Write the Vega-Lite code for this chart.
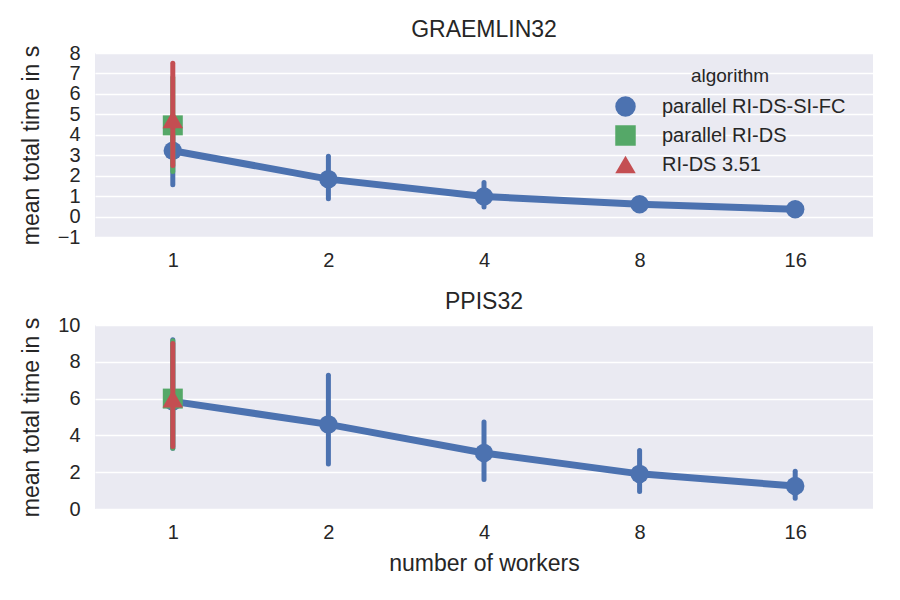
{
  "$schema": "https://vega.github.io/schema/vega-lite/v6.json",
  "background": "white",
  "padding": {"left": 20, "top": 19, "right": 5, "bottom": 5},
  "spacing": 21,
  "config": {
    "font": "Liberation Sans",
    "view": {"fill": "#EAEAF2", "stroke": null},
    "axis": {
      "grid": true, "gridColor": "white", "gridWidth": 1.6,
      "domain": false, "ticks": false, "labelOverlap": false,
      "labelFont": "Liberation Sans", "labelFontSize": 20, "labelColor": "#262626",
      "titleFont": "Liberation Sans", "titleFontSize": 23, "titleColor": "#262626", "titleFontWeight": "normal"
    },
    "axisX": {"grid": false, "labelPadding": 13, "labelAngle": 0},
    "axisY": {"labelPadding": 15, "titlePadding": 14},
    "title": {"font": "Liberation Sans", "fontSize": 23, "fontWeight": "normal", "color": "#262626", "offset": 1},
    "legend": {"labelFont": "Liberation Sans", "titleFont": "Liberation Sans"}
  },
  "datasets": {
    "pts": [
      {"panel": "GRAEMLIN32", "workers": "1", "algorithm": "parallel RI-DS-SI-FC", "mean": 3.22, "lo": 1.55, "hi": 4.6},
      {"panel": "GRAEMLIN32", "workers": "2", "algorithm": "parallel RI-DS-SI-FC", "mean": 1.83, "lo": 0.87, "hi": 2.95},
      {"panel": "GRAEMLIN32", "workers": "4", "algorithm": "parallel RI-DS-SI-FC", "mean": 0.98, "lo": 0.47, "hi": 1.67},
      {"panel": "GRAEMLIN32", "workers": "8", "algorithm": "parallel RI-DS-SI-FC", "mean": 0.6, "lo": 0.42, "hi": 0.82},
      {"panel": "GRAEMLIN32", "workers": "16", "algorithm": "parallel RI-DS-SI-FC", "mean": 0.36, "lo": 0.27, "hi": 0.46},
      {"panel": "GRAEMLIN32", "workers": "1", "algorithm": "parallel RI-DS", "mean": 4.46, "lo": 2.2, "hi": 6.8},
      {"panel": "GRAEMLIN32", "workers": "1", "algorithm": "RI-DS 3.51", "mean": 4.75, "lo": 2.5, "hi": 7.5},
      {"panel": "PPIS32", "workers": "1", "algorithm": "parallel RI-DS-SI-FC", "mean": 5.85, "lo": 3.3, "hi": 9.2},
      {"panel": "PPIS32", "workers": "2", "algorithm": "parallel RI-DS-SI-FC", "mean": 4.6, "lo": 2.45, "hi": 7.27},
      {"panel": "PPIS32", "workers": "4", "algorithm": "parallel RI-DS-SI-FC", "mean": 3.04, "lo": 1.6, "hi": 4.73},
      {"panel": "PPIS32", "workers": "8", "algorithm": "parallel RI-DS-SI-FC", "mean": 1.91, "lo": 0.95, "hi": 3.18},
      {"panel": "PPIS32", "workers": "16", "algorithm": "parallel RI-DS-SI-FC", "mean": 1.25, "lo": 0.59, "hi": 2.05},
      {"panel": "PPIS32", "workers": "1", "algorithm": "parallel RI-DS", "mean": 6.0, "lo": 3.3, "hi": 9.15},
      {"panel": "PPIS32", "workers": "1", "algorithm": "RI-DS 3.51", "mean": 6.0, "lo": 3.4, "hi": 9.0}
    ]
  },
  "vconcat": [
    {
      "title": "GRAEMLIN32",
      "width": 778, "height": 184,
      "data": {"name": "pts"},
      "transform": [{"filter": "datum.panel === 'GRAEMLIN32'"}],
      "encoding": {
        "x": {"field": "workers", "type": "ordinal", "sort": ["1", "2", "4", "8", "16"], "scale": {"type": "point", "padding": 0.5}, "axis": {"title": null}},
        "color": {"field": "algorithm", "type": "nominal", "sort": ["parallel RI-DS-SI-FC", "parallel RI-DS", "RI-DS 3.51"],
          "scale": {"domain": ["parallel RI-DS-SI-FC", "parallel RI-DS", "RI-DS 3.51"], "range": ["#4C72B0", "#55A868", "#C44E52"]},
          "legend": {"title": "algorithm", "orient": "none", "legendX": 520, "legendY": 14, "titleFontSize": 19, "titleFontWeight": "normal", "titleColor": "#262626", "titleAlign": "center", "titleAnchor": "middle", "titlePadding": 10, "labelFontSize": 20, "labelLimit": 0, "labelColor": "#262626", "symbolSize": 420, "rowPadding": 8, "labelOffset": 26, "symbolOpacity": 1, "symbolStrokeWidth": 0}},
        "shape": {"field": "algorithm", "type": "nominal", "sort": ["parallel RI-DS-SI-FC", "parallel RI-DS", "RI-DS 3.51"],
          "scale": {"domain": ["parallel RI-DS-SI-FC", "parallel RI-DS", "RI-DS 3.51"], "range": ["circle", "square", "triangle-up"]}}
      },
      "layer": [
        {"transform": [{"filter": "datum.algorithm === 'parallel RI-DS-SI-FC'"}],
         "mark": {"type": "rule", "strokeWidth": 5, "strokeCap": "round", "color": "#4C72B0"},
         "encoding": {"y": {"field": "lo", "type": "quantitative", "scale": {"domain": [-1, 8], "nice": false, "zero": false}, "axis": {"title": "mean total time in s", "values": [-1, 0, 1, 2, 3, 4, 5, 6, 7, 8], "tickCount": 10, "labelOverlap": false}}, "y2": {"field": "hi"}, "color": null, "shape": null}},
        {"transform": [{"filter": "datum.algorithm === 'parallel RI-DS-SI-FC'"}],
         "mark": {"type": "line", "strokeWidth": 7, "color": "#4C72B0"},
         "encoding": {"y": {"field": "mean", "type": "quantitative", "axis": {"title": "mean total time in s", "values": [-1, 0, 1, 2, 3, 4, 5, 6, 7, 8], "tickCount": 10, "labelOverlap": false}}, "color": null, "shape": null}},
        {"transform": [{"filter": "datum.algorithm === 'parallel RI-DS-SI-FC'"}],
         "mark": {"type": "point", "filled": true, "opacity": 1, "size": 340},
         "encoding": {"y": {"field": "mean", "type": "quantitative", "axis": {"title": "mean total time in s", "values": [-1, 0, 1, 2, 3, 4, 5, 6, 7, 8], "tickCount": 10, "labelOverlap": false}}}},
        {"transform": [{"filter": "datum.algorithm === 'parallel RI-DS'"}],
         "mark": {"type": "rule", "strokeWidth": 5, "strokeCap": "round", "color": "#55A868"},
         "encoding": {"y": {"field": "lo", "type": "quantitative", "axis": {"title": "mean total time in s", "values": [-1, 0, 1, 2, 3, 4, 5, 6, 7, 8], "tickCount": 10, "labelOverlap": false}}, "y2": {"field": "hi"}, "color": null, "shape": null}},
        {"transform": [{"filter": "datum.algorithm === 'parallel RI-DS'"}],
         "mark": {"type": "point", "filled": true, "opacity": 1, "size": 400},
         "encoding": {"y": {"field": "mean", "type": "quantitative", "axis": {"title": "mean total time in s", "values": [-1, 0, 1, 2, 3, 4, 5, 6, 7, 8], "tickCount": 10, "labelOverlap": false}}}},
        {"transform": [{"filter": "datum.algorithm === 'RI-DS 3.51'"}],
         "mark": {"type": "rule", "strokeWidth": 5, "strokeCap": "round", "color": "#C44E52"},
         "encoding": {"y": {"field": "lo", "type": "quantitative", "axis": {"title": "mean total time in s", "values": [-1, 0, 1, 2, 3, 4, 5, 6, 7, 8], "tickCount": 10, "labelOverlap": false}}, "y2": {"field": "hi"}, "color": null, "shape": null}},
        {"transform": [{"filter": "datum.algorithm === 'RI-DS 3.51'"}],
         "mark": {"type": "point", "filled": true, "opacity": 1, "size": 420},
         "encoding": {"y": {"field": "mean", "type": "quantitative", "axis": {"title": "mean total time in s", "values": [-1, 0, 1, 2, 3, 4, 5, 6, 7, 8], "tickCount": 10, "labelOverlap": false}}}}
      ]
    },
    {
      "title": "PPIS32",
      "width": 778, "height": 184,
      "data": {"name": "pts"},
      "transform": [{"filter": "datum.panel === 'PPIS32'"}],
      "encoding": {
        "x": {"field": "workers", "type": "ordinal", "sort": ["1", "2", "4", "8", "16"], "scale": {"type": "point", "padding": 0.5}, "axis": {"title": "number of workers", "titlePadding": 10}},
        "color": {"field": "algorithm", "type": "nominal", "sort": ["parallel RI-DS-SI-FC", "parallel RI-DS", "RI-DS 3.51"],
          "scale": {"domain": ["parallel RI-DS-SI-FC", "parallel RI-DS", "RI-DS 3.51"], "range": ["#4C72B0", "#55A868", "#C44E52"]}, "legend": null},
        "shape": {"field": "algorithm", "type": "nominal", "sort": ["parallel RI-DS-SI-FC", "parallel RI-DS", "RI-DS 3.51"],
          "scale": {"domain": ["parallel RI-DS-SI-FC", "parallel RI-DS", "RI-DS 3.51"], "range": ["circle", "square", "triangle-up"]}, "legend": null}
      },
      "layer": [
        {"transform": [{"filter": "datum.algorithm === 'parallel RI-DS-SI-FC'"}],
         "mark": {"type": "rule", "strokeWidth": 5, "strokeCap": "round", "color": "#4C72B0"},
         "encoding": {"y": {"field": "lo", "type": "quantitative", "scale": {"domain": [0, 10], "nice": false}, "axis": {"title": "mean total time in s", "values": [0, 2, 4, 6, 8, 10], "tickCount": 6, "labelOverlap": false}}, "y2": {"field": "hi"}, "color": null, "shape": null}},
        {"transform": [{"filter": "datum.algorithm === 'parallel RI-DS-SI-FC'"}],
         "mark": {"type": "line", "strokeWidth": 7, "color": "#4C72B0"},
         "encoding": {"y": {"field": "mean", "type": "quantitative", "axis": {"title": "mean total time in s", "values": [0, 2, 4, 6, 8, 10], "tickCount": 6, "labelOverlap": false}}, "color": null, "shape": null}},
        {"transform": [{"filter": "datum.algorithm === 'parallel RI-DS-SI-FC'"}],
         "mark": {"type": "point", "filled": true, "opacity": 1, "size": 340},
         "encoding": {"y": {"field": "mean", "type": "quantitative", "axis": {"title": "mean total time in s", "values": [0, 2, 4, 6, 8, 10], "tickCount": 6, "labelOverlap": false}}}},
        {"transform": [{"filter": "datum.algorithm === 'parallel RI-DS'"}],
         "mark": {"type": "rule", "strokeWidth": 5, "strokeCap": "round", "color": "#55A868"},
         "encoding": {"y": {"field": "lo", "type": "quantitative", "axis": {"title": "mean total time in s", "values": [0, 2, 4, 6, 8, 10], "tickCount": 6, "labelOverlap": false}}, "y2": {"field": "hi"}, "color": null, "shape": null}},
        {"transform": [{"filter": "datum.algorithm === 'parallel RI-DS'"}],
         "mark": {"type": "point", "filled": true, "opacity": 1, "size": 400},
         "encoding": {"y": {"field": "mean", "type": "quantitative", "axis": {"title": "mean total time in s", "values": [0, 2, 4, 6, 8, 10], "tickCount": 6, "labelOverlap": false}}}},
        {"transform": [{"filter": "datum.algorithm === 'RI-DS 3.51'"}],
         "mark": {"type": "rule", "strokeWidth": 5, "strokeCap": "round", "color": "#C44E52"},
         "encoding": {"y": {"field": "lo", "type": "quantitative", "axis": {"title": "mean total time in s", "values": [0, 2, 4, 6, 8, 10], "tickCount": 6, "labelOverlap": false}}, "y2": {"field": "hi"}, "color": null, "shape": null}},
        {"transform": [{"filter": "datum.algorithm === 'RI-DS 3.51'"}],
         "mark": {"type": "point", "filled": true, "opacity": 1, "size": 420},
         "encoding": {"y": {"field": "mean", "type": "quantitative", "axis": {"title": "mean total time in s", "values": [0, 2, 4, 6, 8, 10], "tickCount": 6, "labelOverlap": false}}}}
      ]
    }
  ]
}
